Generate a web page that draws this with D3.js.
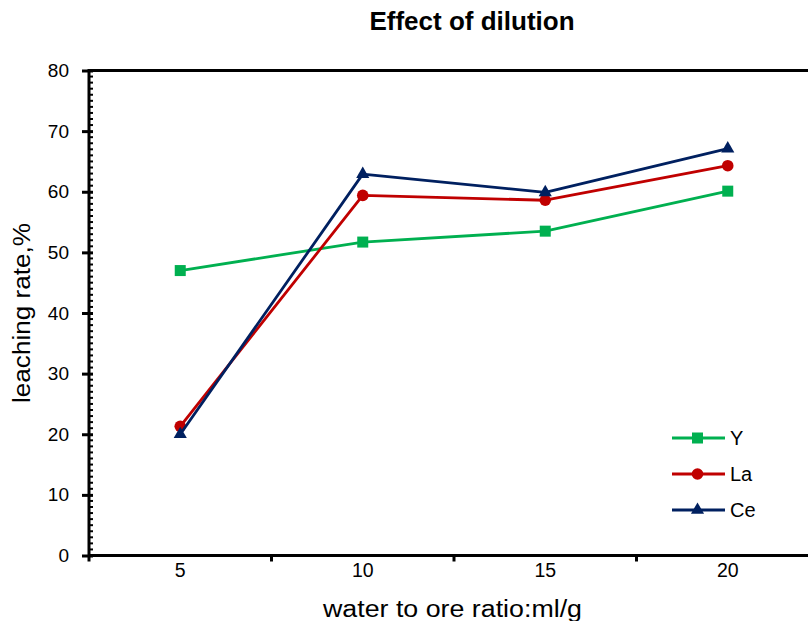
<!DOCTYPE html>
<html><head><meta charset="utf-8">
<script src="https://cdn.jsdelivr.net/npm/d3@7"></script>
<style>body{margin:0;background:#fff}svg{display:block}text{font-family:Arial,"Liberation Sans",sans-serif}</style>
</head><body><svg id="c" width="808" height="621"></svg>
<script>
const categories = [5, 10, 15, 20];
const seriesY  = [47.0, 51.7, 53.5, 60.1];
const seriesLa = [21.3, 59.4, 58.6, 64.3];
const seriesCe = [20.0, 62.9, 59.9, 67.1];
const seriesNames = ["Y", "La", "Ce"];
const yTicks = [0, 10, 20, 30, 40, 50, 60, 70, 80];

const series = [
  {name: seriesNames[0], values: seriesY,  color: "#00B050", marker: "square"},
  {name: seriesNames[1], values: seriesLa, color: "#C00000", marker: "circle"},
  {name: seriesNames[2], values: seriesCe, color: "#002060", marker: "triangle"}
];

const svg = d3.select("#c");
const L = 89, R = 819, T = 70.5, B = 555.5;
const x = d3.scaleBand().domain(categories).range([L, R]).padding(0);
const cx = c => x(c) + x.bandwidth() / 2;
const y = d3.scaleLinear().domain([0, 80]).range([B, T]);

// title
svg.append("text").attr("x", 472).attr("y", 30).attr("text-anchor", "middle")
  .style("font-size", "26px").style("font-weight", "bold").text("Effect of dilution");

// plot frame
svg.append("rect").attr("x", L).attr("y", T).attr("width", R - L).attr("height", B - T)
  .attr("fill", "none").attr("stroke", "#000").attr("stroke-width", 3);

// y minor ticks
const minor = d3.range(0, 81, 1).filter(v => v % 10 !== 0);
svg.append("g").selectAll("line").data(minor).join("line")
  .attr("x1", L).attr("x2", L + 4).attr("y1", d => y(d)).attr("y2", d => y(d))
  .attr("stroke", "#000").attr("stroke-width", 2);

// y axis
const yAxis = svg.append("g").attr("transform", `translate(${L},0)`)
  .call(d3.axisLeft(y).tickValues(yTicks).tickSize(7).tickPadding(13));
yAxis.select(".domain").remove();
yAxis.selectAll(".tick line").attr("x2", -7).attr("x1", 4).attr("stroke-width", 3);
yAxis.selectAll(".tick text").style("font-size", "19px").attr("fill", "#000");

// x axis
const xAxis = svg.append("g").attr("transform", `translate(0,${B})`)
  .call(d3.axisBottom(x).tickSize(0).tickPadding(8));
xAxis.select(".domain").remove();
xAxis.selectAll(".tick text").style("font-size", "19.5px").attr("fill", "#000");
svg.append("g").selectAll("line").data(categories).join("line")
  .attr("x1", d => x(d)).attr("x2", d => x(d)).attr("y1", B).attr("y2", B + 6)
  .attr("stroke", "#000").attr("stroke-width", 3);

// axis labels
svg.append("text").attr("x", 323).attr("y", 617)
  .attr("textLength", 259).attr("lengthAdjust", "spacingAndGlyphs")
  .style("font-size", "23px").text("water to ore ratio:ml/g");
svg.append("text").attr("transform", "translate(29.5,313) rotate(-90)").attr("x", -90).attr("y", 0)
  .attr("textLength", 180).attr("lengthAdjust", "spacingAndGlyphs")
  .style("font-size", "23px").text("leaching rate,%");

// markers
function drawMarker(g, type, px, py, color) {
  if (type === "square") {
    g.append("rect").attr("x", px - 5.5).attr("y", py - 5.5).attr("width", 11).attr("height", 11).attr("fill", color);
  } else if (type === "circle") {
    g.append("circle").attr("cx", px).attr("cy", py).attr("r", 5.8).attr("fill", color);
  } else {
    g.append("path").attr("transform", `translate(${px},${py})`)
      .attr("d", d3.symbol().type(d3.symbolTriangle).size(75)()).attr("fill", color);
  }
}

const line = d3.line().x((d, i) => cx(categories[i])).y(d => y(d));
series.forEach(s => {
  const g = svg.append("g");
  g.append("path").attr("d", line(s.values)).attr("fill", "none")
    .attr("stroke", s.color).attr("stroke-width", 2.8).attr("stroke-linejoin", "round");
  s.values.forEach((v, i) => drawMarker(g, s.marker, cx(categories[i]), y(v), s.color));
});

// legend
const legY = [438, 474, 510];
series.forEach((s, i) => {
  const g = svg.append("g");
  g.append("line").attr("x1", 672).attr("x2", 725).attr("y1", legY[i]).attr("y2", legY[i])
    .attr("stroke", s.color).attr("stroke-width", 2.8);
  drawMarker(g, s.marker, 697.5, legY[i], s.color);
  g.append("text").attr("x", 730).attr("y", legY[i] + 7).style("font-size", "20px").text(s.name);
});
</script></body></html>
